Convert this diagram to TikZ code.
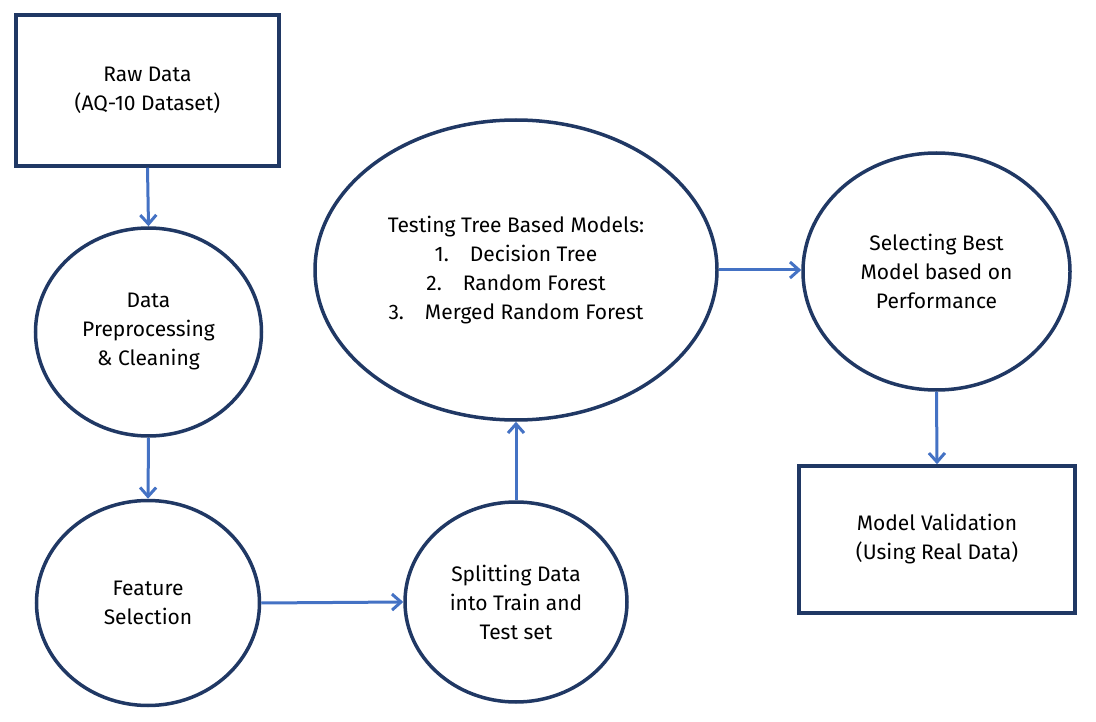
\documentclass[tikz,border=0pt]{standalone}
\usepackage{fontspec}
\setmainfont{Fira Sans}
\usetikzlibrary{arrows.meta,shapes.geometric}
\definecolor{navy}{HTML}{203864}
\definecolor{arrowblue}{HTML}{4472C4}
\begin{document}
\begin{tikzpicture}[x=1pt,y=-1pt,
  txt/.style={font=\fontsize{21}{29}\selectfont, align=center, text=black},
  boxnode/.style={txt, draw=navy, line width=3.5pt, rectangle, inner sep=0pt},
  ell/.style={txt, draw=navy, line width=3.5pt, ellipse, inner sep=0pt},
  conn/.style={draw=arrowblue, line width=3pt, -{Straight Barb[length=9pt,width=16pt,line width=3pt]}}]
\useasboundingbox (0,0) rectangle (1096,722);
\node[boxnode, minimum width=263pt, minimum height=151pt] (raw) at (147.5,90.5) {Raw Data\\(AQ-10 Dataset)};
\node[ell, minimum width=226pt, minimum height=208pt] (prep) at (148.5,332) {Data\\Preprocessing\\\& Cleaning};
\node[ell, minimum width=223pt, minimum height=205pt] (feat) at (148,603) {Feature\\Selection};
\node[ell, minimum width=222pt, minimum height=200pt] (split) at (516,602) {Splitting Data\\into Train and\\Test set};
\node[ell, minimum width=402pt, minimum height=300pt] (test) at (516,270) {Testing Tree Based Models:\\1.\quad Decision Tree\\2.\quad Random Forest\\3.\quad Merged Random Forest};
\node[ell, minimum width=267pt, minimum height=237pt] (sel) at (936.5,271.5) {Selecting Best\\Model based on\\Performance};
\node[boxnode, minimum width=276pt, minimum height=147pt] (val) at (937,539.5) {Model Validation\\(Using Real Data)};
\draw[conn] (raw.south) -- (prep.north);
\draw[conn] (prep.south) -- (feat.north);
\draw[conn] (feat.east) -- (split.west);
\draw[conn] (split.north) -- (test.south);
\draw[conn] (test.east) -- (test.east -| sel.west);
\draw[conn] (sel.south) -- (val.north);
\end{tikzpicture}
\end{document}
